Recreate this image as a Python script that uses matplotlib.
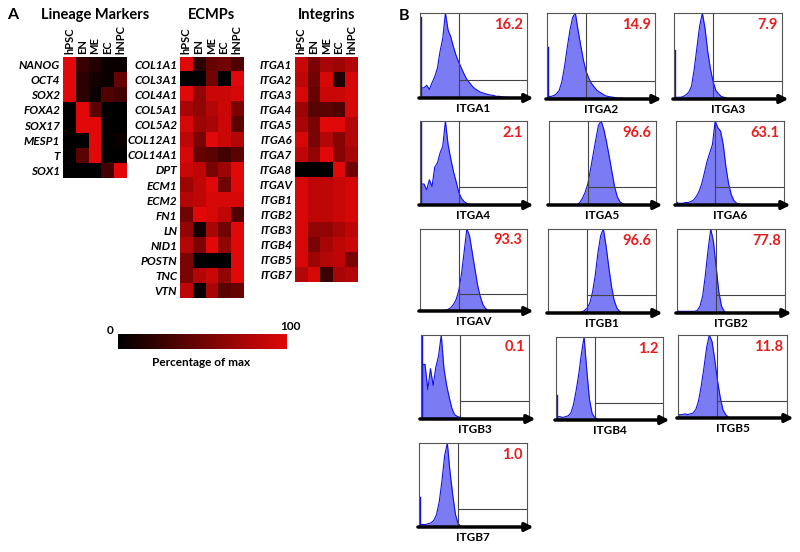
import matplotlib
matplotlib.use("Agg")
import matplotlib.pyplot as plt
import numpy as np
from matplotlib.colors import LinearSegmentedColormap

plt.rcParams['font.family'] = ['Lato', 'DejaVu Sans']

stages = ['hPSC', 'EN', 'ME', 'EC', 'hNPC']

lineage_genes = ['NANOG', 'OCT4', 'SOX2', 'FOXA2', 'SOX17', 'MESP1', 'T', 'SOX1']
lineage_vals = [[100, 25, 15, 5, 5],
                [100, 20, 10, 5, 45],
                [100, 20, 5, 35, 30],
                [0, 100, 40, 0, 0],
                [0, 100, 100, 0, 0],
                [0, 0, 100, 0, 5],
                [0, 40, 100, 0, 0],
                [0, 0, 0, 30, 100]]

ecmp_genes = ['COL1A1', 'COL3A1', 'COL4A1', 'COL5A1', 'COL5A2', 'COL12A1', 'COL14A1', 'DPT',
              'ECM1', 'ECM2', 'FN1', 'LN', 'NID1', 'POSTN', 'TNC', 'VTN']
ecmp_vals = [[100, 20, 45, 50, 35],
             [0, 0, 50, 0, 100],
             [100, 65, 90, 90, 95],
             [75, 65, 80, 90, 55],
             [95, 70, 75, 90, 40],
             [85, 55, 100, 90, 80],
             [95, 45, 40, 30, 40],
             [90, 85, 55, 70, 100],
             [70, 85, 100, 50, 100],
             [80, 85, 95, 95, 95],
             [50, 100, 95, 85, 35],
             [65, 10, 75, 50, 100],
             [80, 55, 100, 65, 100],
             [55, 0, 0, 0, 100],
             [55, 80, 90, 65, 100],
             [85, 5, 75, 40, 45]]

integrin_genes = ['ITGA1', 'ITGA2', 'ITGA3', 'ITGA4', 'ITGA5', 'ITGA6', 'ITGA7', 'ITGA8',
                  'ITGAV', 'ITGB1', 'ITGB2', 'ITGB3', 'ITGB4', 'ITGB5', 'ITGB7']
integrin_vals = [[90, 55, 75, 70, 80],
                 [85, 50, 95, 15, 95],
                 [95, 45, 90, 90, 95],
                 [70, 40, 40, 35, 95],
                 [75, 55, 100, 100, 80],
                 [95, 55, 80, 60, 80],
                 [85, 65, 100, 60, 75],
                 [0, 0, 0, 100, 50],
                 [95, 85, 85, 90, 95],
                 [95, 85, 85, 90, 95],
                 [95, 85, 85, 90, 95],
                 [95, 65, 65, 75, 85],
                 [95, 55, 75, 85, 90],
                 [95, 70, 80, 85, 55],
                 [80, 95, 25, 75, 80]]

# flow histograms: first value = pile-up at the axis start, then 39 bins across
itga1 = [0.95, 0.12, 0.15, 0.10, 0.18, 0.25, 0.35, 0.55, 0.70, 1.00, 0.80, 0.72, 0.60, 0.50, 0.42,
         0.35, 0.28, 0.22, 0.18, 0.14, 0.11, 0.09, 0.07, 0.06, 0.05, 0.04, 0.035, 0.03, 0.02, 0.02,
         0.015, 0.01, 0.01, 0.005]
itga2 = [0.60, 0.03, 0.04, 0.06, 0.10, 0.20, 0.38, 0.60, 0.80, 0.95, 1.00, 0.80, 0.62, 0.45, 0.32,
         0.24, 0.18, 0.14, 0.10, 0.08, 0.06, 0.04, 0.03, 0.025, 0.02, 0.015, 0.01, 0.01, 0.005]
itga3 = [0.57, 0.02, 0.02, 0.03, 0.05, 0.08, 0.15, 0.35, 0.60, 0.85, 1.00, 0.82, 0.55, 0.35, 0.20,
         0.10, 0.06, 0.03, 0.02, 0.01, 0.005]
itga4 = [1.00, 0.25, 0.18, 0.30, 0.22, 0.45, 0.50, 0.62, 0.70, 1.00, 0.72, 0.55, 0.40, 0.28, 0.15,
         0.08, 0.04, 0.02, 0.01]
itga5 = [0, 0, 0, 0, 0, 0, 0, 0, 0, 0, 0.0, 0.03, 0.08, 0.15, 0.25, 0.42, 0.60, 0.78, 0.95, 1.00,
         0.90, 0.75, 0.58, 0.40, 0.22, 0.10, 0.04, 0.015]
itga6 = [0.04, 0.02, 0.02, 0.03, 0.03, 0.04, 0.06, 0.10, 0.16, 0.25, 0.38, 0.52, 0.62, 0.72, 1.00,
         0.92, 0.88, 0.72, 0.45, 0.25, 0.12, 0.05, 0.02, 0.01]
itgav = [0, 0, 0, 0, 0, 0, 0, 0, 0, 0.01, 0.02, 0.04, 0.08, 0.14, 0.25, 0.45, 0.72, 1.00, 0.92,
         0.72, 0.52, 0.32, 0.18, 0.08, 0.03, 0.01]
itgb1 = [0, 0, 0, 0, 0, 0, 0, 0, 0, 0, 0, 0, 0.01, 0.03, 0.06, 0.12, 0.25, 0.45, 0.72, 0.92, 1.00,
         0.80, 0.55, 0.32, 0.15, 0.06, 0.02]
itgb2 = [0.02, 0.02, 0.02, 0.02, 0.02, 0.02, 0.02, 0.03, 0.08, 0.20, 0.45, 0.75, 1.00, 0.85, 0.55,
         0.25, 0.08, 0.02]
itgb3 = [1.00, 0.65, 0.35, 0.60, 0.40, 0.62, 0.75, 1.00, 0.60, 0.40, 0.25, 0.12, 0.05, 0.03, 0.02,
         0.01]
itgb4 = [0.30, 0.04, 0.03, 0.04, 0.05, 0.08, 0.18, 0.35, 0.55, 0.80, 1.00, 0.60, 0.25, 0.08, 0.03,
         0.01]
itgb5 = [0.03, 0.04, 0.05, 0.04, 0.05, 0.06, 0.10, 0.20, 0.38, 0.60, 0.85, 1.00, 0.92, 0.70, 0.45,
         0.25, 0.10, 0.04, 0.01]
itgb7 = [0.36, 0.03, 0.03, 0.04, 0.05, 0.08, 0.15, 0.30, 0.55, 0.85, 1.00, 0.65, 0.38, 0.15, 0.04,
         0.01]

hist_names = ['ITGA1', 'ITGA2', 'ITGA3', 'ITGA4', 'ITGA5', 'ITGA6', 'ITGAV', 'ITGB1', 'ITGB2',
              'ITGB3', 'ITGB4', 'ITGB5', 'ITGB7']
hist_data = [itga1, itga2, itga3, itga4, itga5, itga6, itgav, itgb1, itgb2, itgb3, itgb4, itgb5, itgb7]
hist_pct = [16.2, 14.9, 7.9, 2.1, 96.6, 63.1, 93.3, 96.6, 77.8, 0.1, 1.2, 11.8, 1.0]

W, H = 800, 552
fig = plt.figure(figsize=(W / 100, H / 100), dpi=100)


def box(l, t, r, b):
    return [l / W, 1 - b / H, (r - l) / W, (b - t) / H]


cmap = LinearSegmentedColormap.from_list('blkred', ['#000000', '#e00808'])

# ---- panel A heatmaps
heat = [(lineage_genes, lineage_vals, (63, 57, 127, 178), 'Lineage Markers'),
        (ecmp_genes, ecmp_vals, (180, 57, 243, 298), 'ECMPs'),
        (integrin_genes, integrin_vals, (295, 57, 358, 282), 'Integrins')]
for genes, vals, pos, title in heat:
    ax = fig.add_axes(box(*pos))
    ax.imshow(np.array(vals), cmap=cmap, vmin=0, vmax=100, aspect='auto', interpolation='nearest')
    ax.set_yticks(range(len(genes)))
    ax.set_yticklabels(genes, fontsize=8.5, fontweight='bold', fontstyle='italic')
    ax.xaxis.tick_top()
    ax.set_xticks(range(len(stages)))
    ax.set_xticklabels(stages, rotation=90, fontsize=8, fontweight='bold')
    ax.tick_params(length=0, pad=2)
    for s in ax.spines.values():
        s.set_visible(False)
    fig.text((pos[0] + pos[2]) / 2 / W, 1 - 15 / H, title, ha='center', va='center',
             fontsize=10.5, fontweight='bold')

fig.text(13 / W, 1 - 15 / H, 'A', ha='center', va='center', fontsize=11.5, fontweight='bold')
fig.text(404 / W, 1 - 16 / H, 'B', ha='center', va='center', fontsize=11.5, fontweight='bold')

# colour bar
cax = fig.add_axes(box(118, 334, 287, 349))
cax.imshow(np.linspace(0, 100, 256)[None, :], cmap=cmap, aspect='auto', vmin=0, vmax=100)
cax.set_xticks([])
cax.set_yticks([])
for s in cax.spines.values():
    s.set_visible(False)
fig.text(110 / W, 1 - 331 / H, '0', ha='center', va='center', fontsize=8.5, fontweight='bold')
fig.text(290 / W, 1 - 327 / H, '100', ha='center', va='center', fontsize=8.5, fontweight='bold')
fig.text(201 / W, 1 - 363 / H, 'Percentage of max', ha='center', va='center', fontsize=8.5,
         fontweight='bold')

# ---- panel B flow histograms
hist_pos = [(420, 13, 527, 98), (547, 13, 655, 99), (674, 13, 782, 99),
            (420, 121, 527, 205), (549, 121, 656, 205), (676, 121, 784, 205),
            (420, 229, 527, 311), (548, 229, 656, 313), (677, 229, 785, 313),
            (421, 335, 529, 419), (556, 337, 663, 420), (678, 335, 787, 418),
            (419, 443, 527, 527)]
centers = (np.arange(40) + 0.5) / 40
for name, d, pct, pos in zip(hist_names, hist_data, hist_pct, hist_pos):
    ax = fig.add_axes(box(*pos))
    v = np.pad(np.array(d, dtype=float), (0, 40 - len(d)))
    xs = np.r_[0, centers[1:], 1]
    ys = np.r_[v[1], v[1:], 0]
    ax.fill_between(xs, ys, color='#7b7bf3', lw=0)
    ax.plot(xs, ys, color='#1010e6', lw=0.8)
    ax.plot([0.006, 0.006], [0, v[0]], color='#1010e6', lw=1.0)
    ax.set_xlim(0, 1)
    ax.set_ylim(0, 1)
    ax.set_xticks([])
    ax.set_yticks([])
    for s in ax.spines.values():
        s.set_color('#555555')
        s.set_linewidth(0.8)
    ax.spines['bottom'].set_visible(False)
    ax.axvline(0.36, color='#444444', lw=0.8)
    ax.plot([0.36, 1], [0.21, 0.21], color='#444444', lw=0.8)
    ax.annotate('', xy=(1.06, 0), xytext=(-0.01, 0), xycoords='axes fraction',
                arrowprops=dict(arrowstyle='-|>', lw=2.5, color='black', mutation_scale=12,
                                shrinkA=0, shrinkB=0))
    ax.text(0.96, 0.86, f'{pct:.1f}', transform=ax.transAxes, ha='right', va='center',
            color='#e81c1c', fontsize=10.5, fontweight='bold')
    ax.text(0.5, -0.06, name, transform=ax.transAxes, ha='center', va='top', fontsize=8.5,
            fontweight='bold')

fig.savefig('out.png', dpi=100)
